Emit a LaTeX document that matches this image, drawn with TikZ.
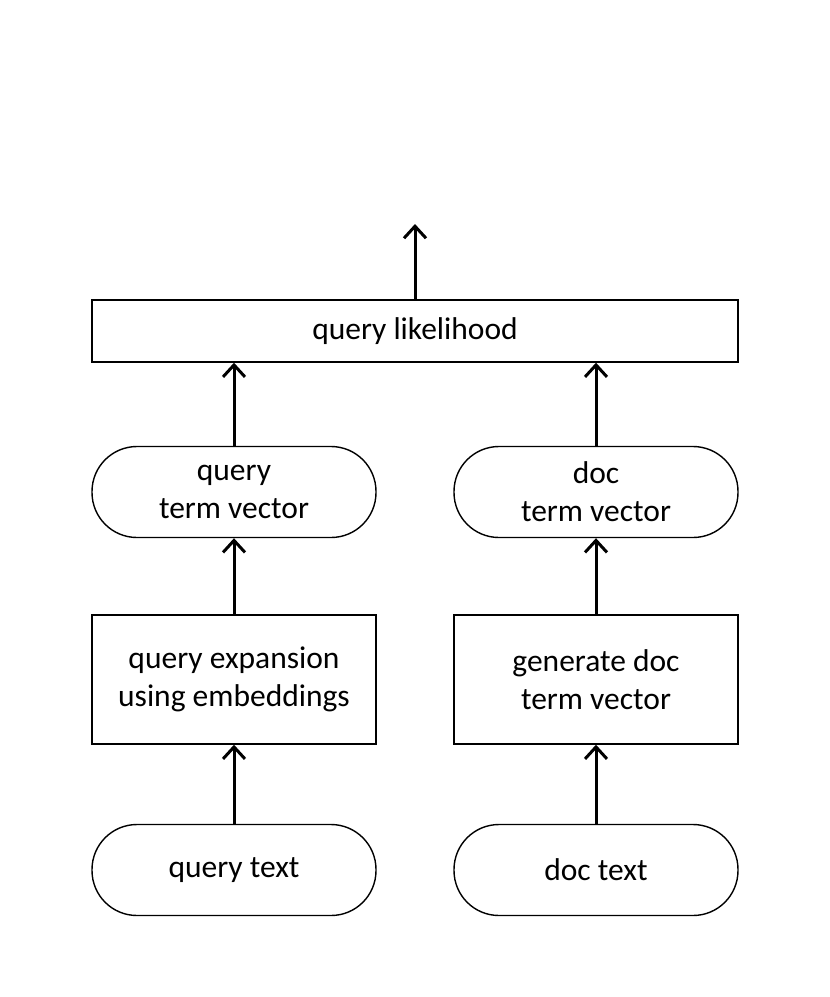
\documentclass[tikz,border=0pt]{standalone}
\usepackage{fontspec}
\setmainfont{Carlito}
\usetikzlibrary{arrows.meta}
\begin{document}
\begin{tikzpicture}[x=1pt,y=1pt,
  base/.style={draw=black, line width=1.4pt, fill=white, align=center,
    font=\fontsize{31.5}{38}\selectfont, inner sep=0pt, minimum width=284pt},
  boxnode/.style={base, rectangle, minimum height=129pt},
  pill/.style={base, rounded corners=45pt, minimum height=91pt},
  topbox/.style={base, rectangle, minimum width=646pt, minimum height=62pt},
  arr/.style={line width=3pt, -{Straight Barb[length=12pt,width=22pt,line width=3pt]}}]
\useasboundingbox (0,0) rectangle (830,-997);
\node[topbox] (ql) at (415,-331) {query likelihood};
\coordinate (out) at (415,-224);
\node[pill] (qtv) at (234,-492) {query\\term vector};
\node[pill] (dtv) at (596,-492) {doc\\term vector};
\node[boxnode] (qe) at (234,-679.5) {query expansion\\using embeddings};
\node[boxnode] (gd) at (596,-679.5) {generate doc\\term vector};
\node[pill] (qt) at (234,-870) {query text};
\node[pill] (dt) at (596,-870) {doc text};
\draw[arr] (ql.north) -- (out);
\draw[arr] (qtv.north) -- (qtv.north |- ql.south);
\draw[arr] (dtv.north) -- (dtv.north |- ql.south);
\draw[arr] (qe) -- (qtv);
\draw[arr] (gd) -- (dtv);
\draw[arr] (qt) -- (qe);
\draw[arr] (dt) -- (gd);
\end{tikzpicture}
\end{document}
